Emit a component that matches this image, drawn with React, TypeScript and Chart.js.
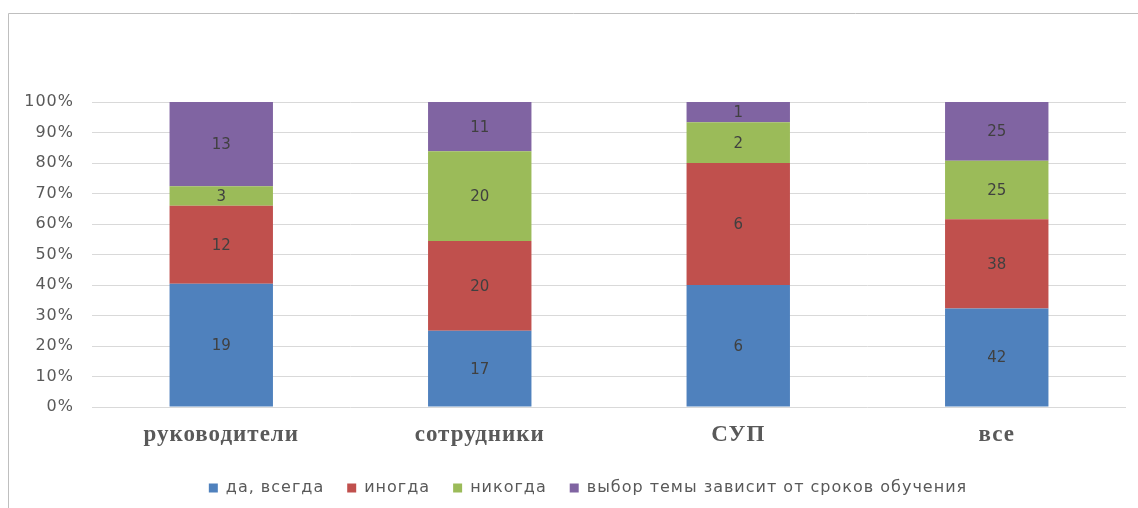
import React, { useEffect, useRef } from "react";
import { Chart, registerables } from "chart.js";

Chart.register(...registerables);

const categories = ["руководители", "сотрудники", "СУП", "все"];
const seriesNames = ["да, всегда", "иногда", "никогда", "выбор темы зависит от сроков обучения"];
const daVsegda = [19, 17, 6, 42];
const inogda = [12, 20, 6, 38];
const nikogda = [3, 20, 2, 25];
const vybor = [13, 11, 1, 25];
const seriesColors = ["#4F81BD", "#C0504D", "#9BBB59", "#8064A2"];
const yTicks = [0, 10, 20, 30, 40, 50, 60, 70, 80, 90, 100];

const counts = [daVsegda, inogda, nikogda, vybor];
const totals = categories.map((_, i) => counts.reduce((s, arr) => s + arr[i], 0));

const frame = {
  id: "frame",
  beforeDraw(chart: any) {
    const ctx = chart.ctx;
    ctx.save();
    ctx.fillStyle = "#ffffff";
    ctx.fillRect(0, 0, chart.width, chart.height);
    ctx.strokeStyle = "#bfbfbf";
    ctx.lineWidth = 1;
    ctx.beginPath();
    ctx.moveTo(8.5, chart.height);
    ctx.lineTo(8.5, 13.5);
    ctx.lineTo(chart.width, 13.5);
    ctx.stroke();
    ctx.restore();
  },
};

function withSpacing(obj: any, method: string, spacing: string, shiftX = 0) {
  if (!obj || obj["__wrapped_" + method]) return;
  const orig = obj[method];
  obj["__wrapped_" + method] = true;
  obj[method] = function (...args: any[]) {
    const ctx = this.ctx;
    ctx.save();
    ctx.letterSpacing = spacing;
    if (shiftX) ctx.translate(shiftX, 0);
    const r = orig.apply(this, args);
    ctx.restore();
    return r;
  };
}

const spacingPlugin = {
  id: "spacingPlugin",
  beforeLayout(chart: any) {
    chart.ctx.letterSpacing = "0px";
    if (chart.legend) {
      withSpacing(chart.legend, "fit", "1px");
      withSpacing(chart.legend, "draw", "1px", 25);
    }
  },
  beforeDraw(chart: any) {
    withSpacing(chart.scales.x, "drawLabels", "1px");
    withSpacing(chart.scales.y, "drawLabels", "1px");
  },
};

const valueLabels = {
  id: "valueLabels",
  afterDatasetsDraw(chart: any) {
    const ctx = chart.ctx;
    ctx.save();
    ctx.font = "15px 'DejaVu Sans'";
    ctx.fillStyle = "#404040";
    ctx.textAlign = "center";
    ctx.textBaseline = "middle";
    chart.data.datasets.forEach((ds: any, di: number) => {
      const meta = chart.getDatasetMeta(di);
      meta.data.forEach((el: any, i: number) => {
        const c = ds.counts[i];
        const y = (el.y + el.base) / 2;
        ctx.fillText(String(c), el.x, y + 1);
      });
    });
    ctx.restore();
  },
};

export default function App() {
  const ref = useRef<HTMLCanvasElement>(null);
  useEffect(() => {
    if (!ref.current) return;
    const chart = new Chart(ref.current, {
      type: "bar",
      data: {
        labels: categories,
        datasets: counts.map((arr, si) => ({
          label: seriesNames[si],
          data: arr.map((v, i) => (v / totals[i]) * 100),
          counts: arr,
          backgroundColor: seriesColors[si],
          borderWidth: 0,
          categoryPercentage: 0.8,
          barPercentage: 0.5,
        })) as any,
      },
      options: {
        responsive: false,
        animation: false,
        layout: { padding: { top: 102, right: 12, bottom: 2, left: 0 } },
        plugins: {
          legend: {
            position: "bottom",
            labels: {
              font: { family: "'DejaVu Sans'", size: 16 },
              color: "#595959",
              boxWidth: 9,
              boxHeight: 9,
              padding: 23,
            },
          },
          tooltip: { enabled: false },
        },
        scales: {
          x: {
            stacked: true,
            grid: { display: false, drawTicks: false },
            border: { display: false },
            ticks: {
              padding: 14,
              color: "#595959",
              font: { family: "'Liberation Serif'", size: 23, weight: "bold" },
            },
            afterFit(scale: any) {
              scale.height = 50;
            },
          },
          y: {
            stacked: true,
            min: 0,
            max: 100,
            afterBuildTicks(scale: any) {
              scale.ticks = yTicks.map((v) => ({ value: v }));
            },
            grid: { color: "#d9d9d9", drawTicks: false, lineWidth: 1 },
            border: { display: false },
            ticks: {
              padding: 18,
              color: "#595959",
              font: { family: "'DejaVu Sans'", size: 16 },
              callback: (v: any) => v + "%",
            },
            afterFit(scale: any) {
              scale.width = 92;
            },
          },
        },
      },
      plugins: [spacingPlugin, frame, valueLabels],
    });
    return () => chart.destroy();
  }, []);
  return (
    <div style={{ position: "fixed", left: 0, top: 0, width: 1138, height: 508 }}>
      <canvas ref={ref} width={1138} height={508} />
    </div>
  );
}
